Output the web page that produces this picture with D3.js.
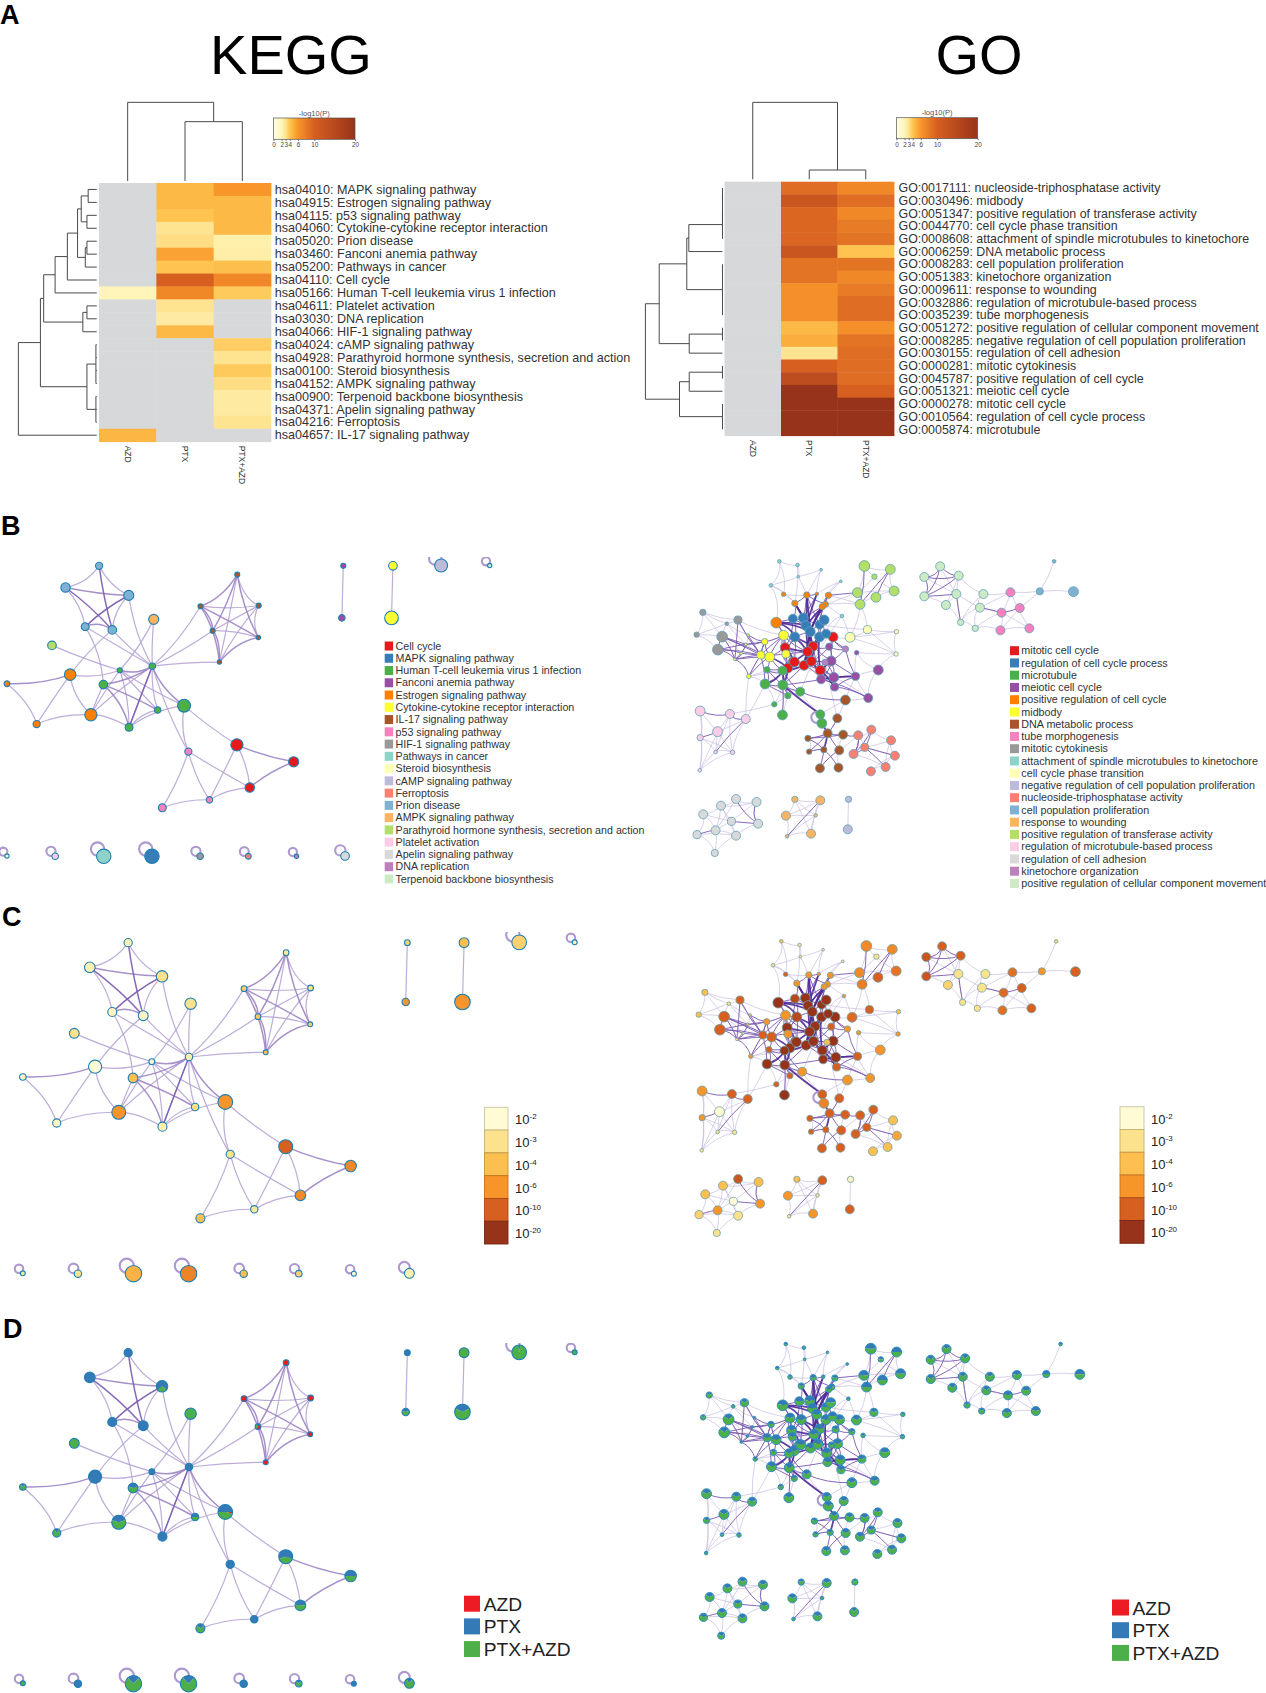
<!DOCTYPE html>
<html>
<head>
<meta charset="utf-8">
<title>KEGG and GO enrichment</title>
<style>
body { margin: 0; background: #fff; }
svg text { font-family: "Liberation Sans", Arial, sans-serif; }
</style>
</head>
<body>
<div id="chart"></div>
<script src="https://d3js.org/d3.v7.min.js"></script>
<script>
// heatmap values, -log10(P), null = not significant
const groups = ["AZD", "PTX", "PTX+AZD"];
const keggTerms = ["hsa04010: MAPK signaling pathway", "hsa04915: Estrogen signaling pathway", "hsa04115: p53 signaling pathway", "hsa04060: Cytokine-cytokine receptor interaction", "hsa05020: Prion disease", "hsa03460: Fanconi anemia pathway", "hsa05200: Pathways in cancer", "hsa04110: Cell cycle", "hsa05166: Human T-cell leukemia virus 1 infection", "hsa04611: Platelet activation", "hsa03030: DNA replication", "hsa04066: HIF-1 signaling pathway", "hsa04024: cAMP signaling pathway", "hsa04928: Parathyroid hormone synthesis, secretion and action", "hsa00100: Steroid biosynthesis", "hsa04152: AMPK signaling pathway", "hsa00900: Terpenoid backbone biosynthesis", "hsa04371: Apelin signaling pathway", "hsa04216: Ferroptosis", "hsa04657: IL-17 signaling pathway"];
const keggAzd = [null, null, null, null, null, null, null, null, 2, null, null, null, null, null, null, null, null, null, null, 4.6];
const keggPtx = [4.5, 4.5, 4, 3, 3.2, 5.5, 4, 10, 7, 3, 2.6, 4.5, null, null, null, null, null, null, null, null];
const keggCombo = [6, 4.5, 4.5, 4.5, 2.3, 2.4, 4.2, 7, 3.8, null, null, null, 3.7, 3, 3.8, 3.2, 2.6, 2.6, 3, null];

const goTerms = ["GO:0017111: nucleoside-triphosphatase activity", "GO:0030496: midbody", "GO:0051347: positive regulation of transferase activity", "GO:0044770: cell cycle phase transition", "GO:0008608: attachment of spindle microtubules to kinetochore", "GO:0006259: DNA metabolic process", "GO:0008283: cell population proliferation", "GO:0051383: kinetochore organization", "GO:0009611: response to wounding", "GO:0032886: regulation of microtubule-based process", "GO:0035239: tube morphogenesis", "GO:0051272: positive regulation of cellular component movement", "GO:0008285: negative regulation of cell population proliferation", "GO:0030155: regulation of cell adhesion", "GO:0000281: mitotic cytokinesis", "GO:0045787: positive regulation of cell cycle", "GO:0051321: meiotic cell cycle", "GO:0000278: mitotic cell cycle", "GO:0010564: regulation of cell cycle process", "GO:0005874: microtubule"];
const goAzd = goTerms.map(() => null);
const goPtx = [9, 12, 9.5, 9.5, 9.5, 12, 8.5, 8.5, 6.5, 6.5, 6.5, 4.5, 5, 3, 10, 14, 20, 20, 20, 20];
const goCombo = [7, 9, 7, 8, 8.5, 4, 8.5, 7, 8, 9, 9, 6.5, 8.5, 9, 9, 9, 10, 20, 20, 20];

// dendrograms: [merge height, ...children], a number is a row or column
const keggRowTree = [45, [99, [107, [135, [165, [190, [199, [216, 0, 1], [213, 2, 3]], [209, [213, 4, 5], 6]], 7], 8], [203, [213, 9, 10], 11]], [213, [235, 12, 13, 14, 15], [235, 16, 17, 18]]], 19];
const goRowTree = [38, [72, [140, [145, [228, [228, [228, 0, 1], 2, 3], 4], 5], [228, 6, 7, 8, 9, 10]], [146, [228, 11, 12], 13]], [122, [146, [228, 14, 15], 16], [228, 17, 18, 19]]];
const keggColTree = [307, 0, [365, 1, 2]];
const goColTree = [307, 0, [510, 1, 2]];

const scaleTicks = [0, 2, 3, 4, 6, 10, 20];
const scaleColors = ["#fffee6", "#fff5b8", "#fee391", "#fec44f", "#f8962a", "#d75f20", "#97331a"];
const pLabels = [["10", "-2"], ["10", "-3"], ["10", "-4"], ["10", "-6"], ["10", "-10"], ["10", "-20"]];
const pColors = ["#fffbd5", "#fde28e", "#fdbf4f", "#f7942a", "#d75f20", "#97331a"];
const shareColors = ["#ed1c24", "#337ab7", "#4daf4a"];

const keggLegend = ["Cell cycle", "MAPK signaling pathway", "Human T-cell leukemia virus 1 infection", "Fanconi anemia pathway", "Estrogen signaling pathway", "Cytokine-cytokine receptor interaction", "IL-17 signaling pathway", "p53 signaling pathway", "HIF-1 signaling pathway", "Pathways in cancer", "Steroid biosynthesis", "cAMP signaling pathway", "Ferroptosis", "Prion disease", "AMPK signaling pathway", "Parathyroid hormone synthesis, secretion and action", "Platelet activation", "Apelin signaling pathway", "DNA replication", "Terpenoid backbone biosynthesis"];
const goLegend = ["mitotic cell cycle", "regulation of cell cycle process", "microtubule", "meiotic cell cycle", "positive regulation of cell cycle", "midbody", "DNA metabolic process", "tube morphogenesis", "mitotic cytokinesis", "attachment of spindle microtubules to kinetochore", "cell cycle phase transition", "negative regulation of cell population proliferation", "nucleoside-triphosphatase activity", "cell population proliferation", "response to wounding", "positive regulation of transferase activity", "regulation of microtubule-based process", "regulation of cell adhesion", "kinetochore organization", "positive regulation of cellular component movement"];

// KEGG network, one list per legend term: layout x, layout y, size, p bin, azd, ptx, combo
const keggCellCycle = [[700, 740, 17, 4, 0, .6, .4], [859, 798, 14, 3.2, 0, .5, .5], [736, 886, 13, 3.2, 0, .5, .5]];
const keggMapk = [[462, 1121, 20, 3.3, 0, .25, .75]];
const keggHtlv = [[463, 471, 9, .5, 0, 1, 0], [372, 485, 7, 0, 0, 1, 0], [326, 534, 12, 2, 0, .4, .6], [478, 621, 9, 1, 0, .5, .5], [398, 680, 11, .5, 0, 1, 0], [552, 606, 18, 3, .03, .5, .47]];
const keggFanconi = [[998, 128, 7, 1.5, 0, 1, 0], [994, 306, 9, 3, 0, .4, .6]];
const keggEstrogen = [[233, 500, 16, 0, 0, 1, 0], [56, 531, 8, .3, 0, .2, .8], [139, 669, 10, .3, 0, .2, .8], [291, 637, 17, 3, 0, .4, .6]];
const keggCytokine = [[1137, 128, 12, 2, 0, 0, 1], [1133, 306, 19, 3, 0, .35, .65]];
const keggIl17 = [[701, 158, 7, .7, 1, 0, 0], [598, 266, 7, 1.5, 1, 0, 0], [761, 264, 7, 1, 1, 0, 0], [632, 350, 7, 1.7, .5, .2, .3], [760, 373, 6, 1.5, 1, 0, 0], [651, 457, 6, 2, 1, 0, 0]];
const keggP53 = [[564, 763, 10, 1, 0, 1, 0], [623, 928, 9, .8, 0, 1, 0], [491, 955, 11, 2, 0, .3, .7]];
const keggHif = [[597, 1121, 9, 2, 0, 1, 0]];
const keggCancer = [[327, 1121, 20, 2.3, 0, .25, .75]];
const keggSteroid = [[56, 1120, 6, .8, 0, 0, 1]];
const keggCamp = [[1272, 127, 18, 1.5, 0, .05, .95]];
const keggFerroptosis = [[732, 1121, 8, 1.5, 0, .2, .8]];
const keggPrion = [[314, 128, 10, .5, 0, 1, 0], [220, 202, 13, .5, 0, 1, 0], [397, 229, 14, 1, 0, .7, .3], [275, 336, 11, .3, 0, 1, 0], [351, 347, 12, .3, 0, 1, 0]];
const keggAmpk = [[467, 311, 14, 1, 0, 0, 1]];
const keggParathyroid = [[182, 400, 12, 1, 0, 0, 1]];
const keggPlatelet = [[191, 1121, 9, 1, 0, 1, 0]];
const keggApelin = [[1003, 1120, 12, .5, 0, .2, .8]];
const keggDnaRep = [[867, 1121, 6, 0, 0, 1, 0]];
const keggTerpenoid = [[1408, 127, 6, .3, 0, 0, 1]];

const keggLists = [["c", keggCellCycle], ["s", keggMapk], ["h", keggHtlv], ["f", keggFanconi], ["e", keggEstrogen], ["y", keggCytokine], ["i", keggIl17], ["k", keggP53], ["g", keggHif], ["w", keggCancer], ["x", keggSteroid], ["m", keggCamp], ["n", keggFerroptosis], ["p", keggPrion], ["a", keggAmpk], ["t", keggParathyroid], ["l", keggPlatelet], ["u", keggApelin], ["d", keggDnaRep], ["v", keggTerpenoid]];

const keggEdgesLight = "p0-p1 p0-p2 p1-p3 p2-p3 p2-p4 p2-h0 p3-h0 p4-h0 p3-h2 a0-h0 a0-h1 t0-h1 h1-h4 h1-h3 h1-h5 h1-e0 h1-e3 h0-h3 h0-h4 h0-e3 h0-k0 h4-h3 e3-h2 e0-e2 e0-e3 e1-e2 e2-e3 e3-h4 h4-h5 h5-k0 h5-c0 c0-k1 c0-c2 k0-c2 k0-k1 k0-k2 k1-c2 k1-k2 h0-i1 h0-i3 h0-i5 i0-i2 i1-i2 i2-i3 i2-i5 i3-i4 i4-i2 i0-i5 f0-f1 y0-y1 p4-e0";
const keggEdgesMid = "p1-p2 e0-e1 c0-c1 c1-c2 i0-i1 i0-i3 i0-i4 i1-i3 i1-i4 i3-i5 i4-i5 i1-i5 h0-h5 h0-h2 p3-p4 h0-h1 h2-h3 h2-h4";
const keggEdgesHeavy = "p0-p4 p1-p4 p2-p3 h0-h4";

// GO network, same columns without azd: layout x, layout y, size, p bin
const goMitoticCycle = [[453, 291, 11, 5], [329, 323, 11, 5], [401, 319, 11, 5], [387, 335, 11, 5], [350, 366, 11, 5], [336, 384, 11, 5], [353, 366, 11, 5], [378, 376, 11, 5], [397, 364, 11, 5], [420, 391, 11, 5]];
const goCycleProcess = [[349, 236, 10, 4.5], [376, 234, 11, 5], [383, 257, 11, 5], [418, 254, 10, 5], [430, 240, 11, 5], [394, 275, 11, 5], [354, 291, 11, 4.5], [418, 291, 11, 5], [435, 281, 10, 5]];
const goMicrotubule = [[322, 392, 10, 5], [282, 389, 7, 4], [277, 432, 11, 5], [323, 435, 11, 5], [368, 455, 10, 3], [336, 467, 7, 4], [301, 493, 6, 4], [322, 525, 11, 5], [420, 523, 10, 4], [424, 550, 11, 3.3]];
const goMeiotic = [[443, 320, 8, 4], [514, 338, 5, 3], [448, 363, 11, 5], [570, 390, 11, 3], [511, 409, 9, 4], [455, 412, 11, 5], [422, 418, 10, 5], [457, 441, 9, 4], [544, 474, 10, 3]];
const goPosCycle = [[306, 248, 12, 5], [385, 165, 7, 3], [441, 166, 7, 3], [354, 190, 7, 3], [433, 193, 7, 3], [425, 200, 7, 3], [411, 162, 4, 3], [325, 163, 5, 4]];
const goMidbody = [[325, 286, 11, 3], [331, 342, 9, 3], [289, 351, 11, 4], [266, 345, 9, 4], [276, 305, 7, 3], [235, 409, 5, 3], [227, 313, 3, 2], [233, 285, 3, 2], [199, 358, 3, 1], [215, 340, 3, 1]];
const goDnaMeta = [[485, 480, 11, 3], [464, 535, 10, 4], [439, 580, 10, 4], [479, 584, 10, 4], [388, 595, 7, 4], [429, 629, 7, 4], [469, 631, 10, 4], [391, 635, 6, 4], [419, 685, 10, 4], [467, 683, 10, 4]];
const goTube = [[912, 157, 10, 3.7], [889, 218, 10, 3.8], [936, 204, 10, 4], [886, 271, 10, 3.7], [961, 265, 10, 4]];
const goCytokinesis = [[166, 290, 12, 4], [155, 329, 12, 4], [207, 240, 9, 4], [116, 217, 7, 2], [178, 251, 4, 1], [100, 284, 6, 2]];
const goAttachment = [[314, 64, 4, 2], [361, 75, 4, 1], [292, 136, 4, 1], [363, 110, 3, 1], [422, 89, 3, 1], [473, 124, 3, 1], [476, 228, 4, 3]];
const goPhase = [[497, 292, 11, 3.8], [542, 269, 9, 4], [617, 275, 5, 2], [616, 342, 5, 3]];
const goNegProlif = [[493, 778, 7, .3], [491, 868, 10, 4]];
const goNucleoside = [[552, 569, 10, 4], [518, 586, 10, 4], [603, 601, 10, 2], [535, 622, 9, 4], [506, 642, 10, 4], [613, 647, 10, 2.6], [589, 681, 10, 2], [551, 694, 10, 2]];
const goProlif = [[988, 154, 8, 3], [1075, 155, 11, 4], [1025, 64, 4, 1.5]];
const goWounding = [[354, 778, 7, 2], [420, 781, 10, 4], [331, 827, 10, 3], [408, 826, 4, 1], [396, 881, 10, 3], [334, 889, 4, 1]];
const goTransferase = [[534, 78, 12, 3.2], [601, 88, 11, 3.2], [516, 158, 11, 3.2], [611, 153, 11, 3.6], [564, 172, 11, 4], [523, 193, 11, 3.4], [560, 110, 6, 1]];
const goTubuleBased = [[109, 513, 11, 3], [186, 522, 10, 4], [227, 537, 10, 4], [154, 575, 11, 0], [109, 593, 7, 3], [149, 636, 4, 1], [193, 637, 5, 1], [108, 691, 4, 1]];
const goAdhesion = [[202, 777, 10, 4.2], [163, 797, 10, 2], [255, 786, 10, 2], [117, 823, 10, 2], [190, 844, 9, 0], [259, 851, 10, 3], [149, 871, 10, 3], [101, 884, 9, 1.5], [202, 887, 10, 1], [147, 939, 8, 1]];
const goKinetochore = [[485, 327, 7, 3], [432, 367, 7, 2]];
const goMovement = [[730, 79, 10, 4], [689, 111, 10, 4.2], [778, 107, 10, 4], [689, 169, 10, 4.2], [745, 195, 10, 1.5], [772, 162, 10, 1], [842, 162, 10, 1], [833, 203, 10, 1], [783, 247, 7, 1], [821, 265, 7, 1]];

const goLists = [["r", goMitoticCycle], ["b", goCycleProcess], ["m", goMicrotubule], ["e", goMeiotic], ["o", goPosCycle], ["y", goMidbody], ["d", goDnaMeta], ["t", goTube], ["c", goCytokinesis], ["a", goAttachment], ["f", goPhase], ["z", goNegProlif], ["n", goNucleoside], ["q", goProlif], ["w", goWounding], ["l", goTransferase], ["u", goTubuleBased], ["h", goAdhesion], ["j", goKinetochore], ["v", goMovement]];
// share of PTX in each GO term's nodes, the rest is PTX+AZD
const goPtxShare = [.4, .45, .35, .4, .4, .4, .35, .4, .3, .55, .35, .2, .35, .5, .35, .5, .35, .35, .4, .3];

const goEdgesLight = "a0-a1 a0-a2 a1-a3 a1-o3 a2-a3 a2-o7 a2-o3 a3-o1 a3-a4 a4-o1 a4-o6 a0-o7 a5-o2 a5-o6 a5-o4 o2-l5 o4-l5 o5-l2 o0-a2 o7-o3 a6-o4 a6-f0 a6-m4 a6-b8 f0-f1 f0-f2 f0-l5 f1-f2 f1-f3 f0-f3 f2-f3 f1-l5 e1-f3 e1-e3 e3-e8 e3-f3 e1-e4 e4-e8 e5-e8 d0-e4 d0-d1 d0-m8 d1-j1 d1-d2 y6-c4 y7-c2 c0-c3 c0-c5 c0-c4 c1-c5 c2-c3 c3-c4 c3-c5 c4-c5 c2-c4 c2-y0 y5-m1 y5-y3 y5-m2 y5-u2 u1-m6 u2-m2 u0-u4 u0-u7 u0-u3 u1-u5 u1-u6 u2-u6 u3-u5 u3-u6 u3-u7 u4-u5 u4-u6 u4-u7 u5-u6 u5-u7 u6-u7 u2-u3 u1-u3 m5-m6 m3-m6 m4-m5 m4-m8 m5-m7 m7-m3 m2-m4 m2-m6 y5-m0 d4-d2 d7-d5 d4-d7 d3-d6 d6-n1 d9-d6 n2-n3 n2-n5 n2-n6 n5-n6 n5-n7 n4-n6 n6-n7 n3-n5 n0-n1 n1-n3 n0-n2 l0-l2 l0-l1 l1-l3 l2-l3 l2-l6 l3-l6 l0-l6 l3-l4 l4-l5 l2-l5 v0-v5 v1-v5 v2-v4 v2-v5 v2-v6 v3-v4 v4-v5 v4-v8 v5-v7 v5-v8 v6-v7 v6-t0 v6-v8 v7-v8 v7-v9 v8-v9 v9-t1 v7-t1 v9-t3 v7-t0 t0-t1 t0-t4 t1-t3 t2-t3 t3-t4 t1-t4 t0-q0 t2-q0 q0-q1 q0-q2 h0-h1 h0-h2 h1-h2 h1-h3 h1-h4 h1-h6 h2-h4 h2-h5 h3-h4 h3-h6 h3-h7 h4-h6 h4-h8 h6-h8 h6-h9 h7-h8 h7-h9 h8-h9 h5-h8 h0-h6 h1-h8 w0-w2 w0-w3 w0-w4 w0-w1 w1-w2 w1-w3 w2-w3 w2-w5 w3-w4 w3-w5 w4-w5 w1-w4 z0-z1 b3-f1 o7-o1 e4-e3 d0-e8 r0-f0 y0-y4 y4-y2 y3-c2 y6-y3 y7-y9 y9-c0 y8-c0 c4-y7";
const goEdgesMid = "b0-b1 b0-b6 b1-b3 b3-b4 b4-b8 b7-b8 b7-b5 b6-b5 o0-b0 o0-y0 o0-r1 o1-o3 o1-o4 o1-o6 o2-o4 o3-b1 o5-b2 o4-b3 o6-b1 y0-r1 y0-y1 y1-r4 y1-y2 y2-y3 y3-y4 y2-m1 y2-m0 y3-c0 y3-y5 y4-c1 y7-y3 y9-y8 c1-y9 r0-b7 r0-e0 r0-j0 r0-e2 e0-j0 e0-e2 e2-e4 e2-e5 e5-e6 e5-e7 e6-e7 j1-e5 j1-e6 e2-j1 e4-e5 r9-e6 r9-e5 r9-j1 r8-j1 m0-m1 m0-m4 m3-m5 m2-m3 m3-m7 m1-m2 m4-d0 u0-u1 u1-u2 u2-u5 u3-u4 d1-d2 d2-d4 d2-d6 d4-d5 d5-d7 d6-d8 d3-n1 n1-n4 n0-n3 n3-n4 n5-n3 l1-l4 v0-v1 v0-v2 v0-v3 v2-v3 v1-v3 v5-v3 v8-v5 t1-t2 t1-v7 h5-h0 h4-h5 h6-h7 w1-w5 l2-o2 n3-n6 n0-n4 n1-n4 l0-l5 l1-l5 v1-v2 c1-y8 c2-y8 y3-y8 y2-y8 y3-y2 y0-y3 e5-e4 h2-h5 d4-d3 d7-d2 d2-d3 d5-d8 d5-d9 b0-r1 b0-b2 b1-b2 b1-b5 b3-b5 b3-b7 b4-b7 b6-r1 b6-r4 b6-y1 b7-r0 b8-r0 b8-r2 r2-r8 r2-r9 r8-r9 r7-r9 r7-m3 r7-e6 r4-r7 r4-r5 r5-m2 r5-m1 r7-y1 y1-r3 o3-b0 o3-b2 o5-b1 o4-b5 o2-b3 o2-b5 o1-b1 o1-b3 e0-r2 e0-r8 e2-r8 e2-r2 j0-b8 j0-e2 j0-e4 e5-r8 e6-m3 e6-e2 e7-e4 e8-e7 e8-e6 y0-b6 y0-r3 y0-y2 y2-r1 y4-y0 y4-y3 y4-y2 y5-y2 m1-m3 m2-m5 m2-y3 m3-m4 m0-m5 c0-c1 c1-y3 c0-y2 c0-y8 c2-y3 y8-y5 y9-y2 y7-y4 y6-y4 y6-y8 y6-c0";
const goEdgesHeavy = "b5-o1 b2-o1 b5-o5 b5-o4 b2-o4 b2-o6 b2-o3 b5-o3 b5-r3 b5-r7 b5-b2 r3-r7 r3-r8 r3-r4 r3-b2 b5-r2 b2-r2 r2-r7 r2-b6 r7-m0 r4-m0 r7-r8 r8-b7 r2-b7 b6-r3 b6-o0 b5-o0 b2-o0 b7-r9 r3-r1 r1-r4 r1-y1 y1-r5 r5-m0 r5-m3 m0-m3 m3-m8 m8-d2 d2-d5 y2-r5 m0-m2 r9-e7 r9-e2 e6-r8 e6-e4";

const W = 1266, H = 1693;
const svg = d3.select("#chart").append("svg").attr("width", W).attr("height", H).style("display", "block");
svg.append("rect").attr("width", W).attr("height", H).attr("fill", "#fff");
const defs = svg.append("defs");

const valueColor = d3.scaleLinear().domain(scaleTicks).range(scaleColors);
const binColor = d3.scaleLinear().domain([0, 1, 2, 3, 4, 5]).range(pColors);
const termColors = d3.schemeSet1.slice(0, 9).concat(d3.schemeSet3.slice(0, 11));

// panel letters and titles
[["A", 0, 24], ["B", 1, 535], ["C", 2, 926], ["D", 3, 1338]].forEach(d => {
  svg.append("text").attr("x", d[1]).attr("y", d[2]).attr("font-size", 27).attr("font-weight", "bold").attr("fill", "#000").text(d[0]);
});
[["KEGG", 291, 73.5], ["GO", 979, 73.5]].forEach(d => {
  svg.append("text").attr("x", d[1]).attr("y", d[2]).attr("text-anchor", "middle").attr("font-size", 56).attr("fill", "#000").text(d[0]);
});

function drawTree(tree, leafPos, depth, leafDepth, horizontal, g) {
  const line = (a1, b1, a2, b2) => {
    g.append("line").attr("x1", horizontal ? a1 : b1).attr("y1", horizontal ? b1 : a1)
      .attr("x2", horizontal ? a2 : b2).attr("y2", horizontal ? b2 : a2);
  };
  function walk(node) {
    if (typeof node === "number") return { pos: leafPos(node), d: depth(leafDepth) };
    const kids = node.slice(1).map(walk);
    const d = depth(node[0]);
    kids.forEach(k => line(k.d, k.pos, d, k.pos));
    line(d, kids[0].pos, d, kids[kids.length - 1].pos);
    return { pos: (kids[0].pos + kids[kids.length - 1].pos) / 2, d: d };
  }
  walk(tree);
}

function drawHeatmap(o) {
  const g = svg.append("g");
  const x = d3.scaleBand().domain(groups).range(o.xr);
  const y = d3.scaleBand().domain(d3.range(o.terms.length)).range(o.yr);
  const series = [o.azd, o.ptx, o.combo];
  const cells = [];
  groups.forEach((grp, c) => o.terms.forEach((t, r) => cells.push({ grp: grp, r: r, v: series[c][r] })));
  g.selectAll("rect").data(cells).join("rect")
    .attr("x", d => x(d.grp)).attr("y", d => y(d.r))
    .attr("width", x.bandwidth() + .4).attr("height", y.bandwidth() + .4)
    .attr("fill", d => d.v === null ? "#d6d8da" : valueColor(d.v));
  g.selectAll("text.term").data(o.terms).join("text").attr("class", "term")
    .attr("x", o.xr[1] + o.labelGap).attr("y", (d, i) => y(i) + y.bandwidth() / 2 + 4.2)
    .attr("font-size", o.termSize).attr("fill", "#333").text(d => d);
  g.selectAll("text.group").data(groups).join("text").attr("class", "group")
    .attr("transform", d => `translate(${x(d) + x.bandwidth() / 2 - 3},${o.groupTop}) rotate(90)`)
    .attr("font-size", 8.5).attr("fill", "#333").text(d => d);

  const rowDepth = d3.scaleLinear().domain([0, 1568]).range(o.rowRange);
  const treeRows = g.append("g").attr("stroke", "#4a4a4a").attr("stroke-width", 1);
  drawTree(o.rowTree, i => y(i) + y.bandwidth() / 2, rowDepth, o.rowLeaf, true, treeRows);
  const colDepth = d3.scaleLinear().domain([0, 1500]).range([0, 500]);
  const treeCols = g.append("g").attr("stroke", "#4a4a4a").attr("stroke-width", 1);
  drawTree(o.colTree, i => x(groups[i]) + x.bandwidth() / 2, colDepth, o.colLeaf, false, treeCols);

  // colour bar
  const bar = d3.scaleLinear().domain([0, 20]).range(o.barX);
  const gradId = "grad" + o.id;
  const grad = defs.append("linearGradient").attr("id", gradId);
  scaleTicks.forEach(t => grad.append("stop").attr("offset", t / 20).attr("stop-color", valueColor(t)));
  g.append("rect").attr("x", o.barX[0]).attr("y", o.barY[0]).attr("width", o.barX[1] - o.barX[0])
    .attr("height", o.barY[1] - o.barY[0]).attr("fill", `url(#${gradId})`).attr("stroke", "#555").attr("stroke-width", .7);
  const axis = g.append("g").attr("transform", `translate(0,${o.barY[1]})`)
    .call(d3.axisBottom(bar).tickValues(scaleTicks).tickSize(1.5).tickPadding(2).tickFormat(d3.format("d")));
  axis.select(".domain").remove();
  axis.selectAll("text").attr("font-size", 6.3).attr("fill", "#444").style("font-family", "Liberation Sans");
  axis.selectAll("line").attr("stroke", "#666");
  g.append("text").attr("x", (o.barX[0] + o.barX[1]) / 2).attr("y", o.barY[0] - 2.5).attr("text-anchor", "middle")
    .attr("font-size", 7.5).attr("fill", "#555").text("-log10(P)");
}

drawHeatmap({ id: "kegg", terms: keggTerms, azd: keggAzd, ptx: keggPtx, combo: keggCombo,
  xr: [99, 271], yr: [183, 441.7], labelGap: 3.7, termSize: 12.6, groupTop: 445.7,
  rowTree: keggRowTree, rowRange: [0, 640], rowLeaf: 237, colTree: keggColTree, colLeaf: 543,
  barX: [273.5, 355], barY: [118, 139.3] });
drawHeatmap({ id: "go", terms: goTerms, azd: goAzd, ptx: goPtx, combo: goCombo,
  xr: [724.5, 894], yr: [181.7, 435.7], labelGap: 4.5, termSize: 12.4, groupTop: 440,
  rowTree: goRowTree, rowRange: [630, 1266], rowLeaf: 228, colTree: goColTree, colLeaf: 538,
  barX: [896.5, 977.7], barY: [117.7, 138.7] });

// node tables built from the per-term lists
function buildNodes(lists, share) {
  const nodes = [];
  lists.forEach((l, cat) => l[1].forEach((n, i) => {
    const s = n.length > 4 ? [n[4], n[5], n[6]] : [0, share[cat], 1 - share[cat]];
    nodes.push({ id: l[0] + i, cat: cat, x: n[0], y: n[1], size: n[2], bin: n[3], share: s });
  }));
  return nodes;
}
function buildEdges(nodes, sets) {
  const byId = new Map(nodes.map(n => [n.id, n]));
  const edges = [];
  sets.forEach((str, w) => str.split(" ").forEach(e => {
    const p = e.split("-");
    edges.push({ a: byId.get(p[0]), b: byId.get(p[1]), w: w });
  }));
  return edges;
}
const keggNodes = buildNodes(keggLists);
const keggEdges = buildEdges(keggNodes, [keggEdgesLight, keggEdgesMid, keggEdgesHeavy]);
const goNodes = buildNodes(goLists, goPtxShare);
const goEdges = buildEdges(goNodes, [goEdgesLight, goEdgesMid, goEdgesHeavy]);

function drawNetwork(o) {
  const clipId = "clip" + o.id;
  defs.append("clipPath").attr("id", clipId).append("rect")
    .attr("x", -20).attr("y", o.top).attr("width", W + 40).attr("height", H);
  const g = svg.append("g").attr("clip-path", `url(#${clipId})`);
  const x = d3.scaleLinear().domain([0, 1568]).range(o.xr);
  const y = d3.scaleLinear().domain(o.yd).range(o.yr);
  const r = d3.scaleLinear().domain([0, 10]).range([0, o.r10]);

  // centre of each term, edges bend toward it
  const centres = d3.rollup(o.nodes, v => [d3.mean(v, n => n.x), d3.mean(v, n => n.y)], n => n.cat);
  const edgePath = e => {
    const ca = centres.get(e.a.cat), cb = centres.get(e.b.cat);
    const mx = (e.a.x + e.b.x) / 2, my = (e.a.y + e.b.y) / 2;
    const cx = mx + o.bend * ((ca[0] + cb[0]) / 2 - mx), cy = my + o.bend * ((ca[1] + cb[1]) / 2 - my);
    const p = d3.path();
    p.moveTo(x(e.a.x), y(e.a.y));
    p.quadraticCurveTo(x(cx), y(cy), x(e.b.x), y(e.b.y));
    return p.toString();
  };
  g.append("g").attr("fill", "none").selectAll("path").data(o.edges).join("path")
    .attr("d", edgePath)
    .attr("stroke", d => o.edgeColor[d.w]).attr("stroke-width", d => o.edgeWidth[d.w]).attr("stroke-opacity", o.edgeAlpha);

  // nodes without edges carry a self loop
  const linked = new Set();
  o.edges.forEach(e => { linked.add(e.a.id); linked.add(e.b.id); });
  g.append("g").selectAll("circle").data(o.nodes.filter(n => !linked.has(n.id))).join("circle")
    .attr("cx", n => x(n.x) - .5 * r(n.size) - 2.6).attr("cy", n => y(n.y) - .6 * r(n.size) - 3)
    .attr("r", n => .5 * r(n.size) + 3)
    .attr("fill", "none").attr("stroke", "#ad98cf").attr("stroke-width", 2.1);

  const marks = g.append("g").selectAll("g").data(o.nodes).join("g")
    .attr("transform", n => `translate(${x(n.x)},${y(n.y)})`);
  if (o.paint === "share") {
    const arc = d3.arc().innerRadius(0);
    marks.each(function (n) {
      const s = n.share, start = -Math.PI * s[1];
      // PTX on top, then the rest of the pie clockwise
      const pie = d3.pie().sort(null).startAngle(start).endAngle(start + 2 * Math.PI);
      const order = [1, 0, 2];
      const slices = pie(order.map(i => s[i]));
      d3.select(this).selectAll("path").data(slices).join("path")
        .attr("d", d => arc.outerRadius(r(n.size))(d))
        .attr("fill", (d, i) => shareColors[order[i]]);
    });
    marks.append("circle").attr("r", n => r(n.size)).attr("fill", "none")
      .attr("stroke", o.nodeStroke).attr("stroke-width", o.nodeStrokeWidth);
  } else {
    marks.append("circle").attr("r", n => r(n.size))
      .attr("fill", n => o.paint === "term" ? termColors[n.cat] : binColor(n.bin))
      .attr("stroke", o.nodeStroke).attr("stroke-width", o.nodeStrokeWidth);
  }
}

const keggEdgeStyle = { edgeColor: ["#b5a4d4", "#9c84c4", "#7a5bb0"], edgeWidth: [1.2, 1.5, 1.5], edgeAlpha: .9, bend: .28 };
const goEdgeStyle = { edgeColor: ["#c3b6dc", "#7a58b0", "#4f2a96"], edgeWidth: [.7, 1, 1.8], edgeAlpha: .9, bend: .22 };
const keggPanels = [
  { id: "kb", paint: "term", xr: [-13, 546.8], yd: [0, 1200], yr: [528.4, 879.4], r10: 3.6, top: 557, nodeStrokeWidth: 1.1 },
  { id: "kc", paint: "bin", xr: [0, 640], yd: [0, 1200], yr: [900, 1300], r10: 4.1, top: 932, nodeStrokeWidth: 1.1 },
  { id: "kd", paint: "share", xr: [0, 640], yd: [0, 1200], yr: [1310, 1710], r10: 4.1, top: 1343, nodeStrokeWidth: 1.1 }
];
keggPanels.forEach(p => drawNetwork(Object.assign(p, keggEdgeStyle, { nodes: keggNodes, edges: keggEdges, nodeStroke: "#1f7fb4" })));
const goPanels = [
  { id: "gb", paint: "term", xr: [658, 1264], yd: [0, 1080], yr: [540, 900], r10: 4.5, top: 0, nodeStroke: "#5f9fb8", nodeStrokeWidth: .8 },
  { id: "gc", paint: "bin", xr: [660, 1266], yd: [0, 1080], yr: [920, 1280], r10: 4.5, top: 0, nodeStroke: "#6f9fa6", nodeStrokeWidth: .8 },
  { id: "gd", paint: "share", xr: [664.4, 1270.4], yd: [0, 1080], yr: [1322.7, 1682.7], r10: 4.5, top: 0, nodeStroke: "#2f8fc0", nodeStrokeWidth: 1 }
];
goPanels.forEach(p => drawNetwork(Object.assign(p, goEdgeStyle, { nodes: goNodes, edges: goEdges })));

// term legends, panel B
function termLegend(names, swatchX, swatchW, textX, y0, step, size) {
  const g = svg.append("g");
  const y = d3.scaleLinear().domain([0, names.length - 1]).range([y0, y0 + step * (names.length - 1)]);
  g.selectAll("rect").data(names).join("rect")
    .attr("x", swatchX).attr("y", (d, i) => y(i) - 4.5).attr("width", swatchW).attr("height", 9)
    .attr("fill", (d, i) => termColors[i]);
  g.selectAll("text").data(names).join("text")
    .attr("x", textX).attr("y", (d, i) => y(i) + 3.7).attr("font-size", size).attr("fill", "#333").text(d => d);
}
termLegend(keggLegend, 384.7, 8.4, 395.5, 646, 12.26, 10.7);
termLegend(goLegend, 1010, 9, 1021.3, 650.7, 12.25, 10.75);

// p value legends, panel C
function pLegend(x0, x1, textX, y0, y1) {
  const g = svg.append("g");
  const y = d3.scaleBand().domain(d3.range(pColors.length)).range([y0, y1]);
  g.selectAll("rect").data(pColors).join("rect")
    .attr("x", x0).attr("y", (d, i) => y(i)).attr("width", x1 - x0).attr("height", y.bandwidth())
    .attr("fill", d => d).attr("stroke", d => d3.color(d).darker(.7)).attr("stroke-width", .9);
  const t = g.selectAll("text").data(pLabels).join("text")
    .attr("x", textX).attr("y", (d, i) => y(i) + y.bandwidth() / 2 + 5.5).attr("font-size", 13).attr("fill", "#222");
  t.append("tspan").text(d => d[0]);
  t.append("tspan").attr("dy", -5).attr("font-size", 8).text(d => d[1]);
}
pLegend(484.5, 508, 515, 1107.3, 1244);
pLegend(1120, 1144, 1151, 1106.7, 1243.3);

// share legends, panel D
function shareLegend(x0, w, textX, y0, step) {
  const g = svg.append("g");
  const y = d3.scaleBand().domain(groups).range([y0, y0 + 3 * step]);
  g.selectAll("rect").data(groups).join("rect")
    .attr("x", x0).attr("y", d => y(d)).attr("width", w).attr("height", 16)
    .attr("fill", (d, i) => shareColors[i]);
  g.selectAll("text").data(groups).join("text")
    .attr("x", textX).attr("y", d => y(d) + 15).attr("font-size", 19.2).attr("fill", "#222").text(d => d);
}
shareLegend(464, 16, 483.7, 1595.7, 22.7);
shareLegend(1112, 17, 1132.4, 1599.5, 22.7);
</script>
</body>
</html>
